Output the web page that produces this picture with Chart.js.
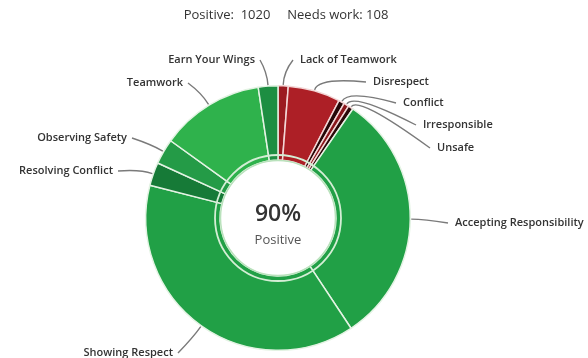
<!DOCTYPE html>
<html>
<head>
<meta charset="utf-8">
<script src="https://cdn.jsdelivr.net/npm/chart.js@4.4.0/dist/chart.umd.min.js"></script>
<style>
  html, body { margin: 0; padding: 0; background: #fff; }
  #wrap { width: 588px; height: 358px; position: relative; }
</style>
</head>
<body>
<div id="wrap"><canvas id="behaviorChart"></canvas></div>
<script>
// categories, clockwise from the top
const categories = [
    "Lack of Teamwork", "Disrespect", "Conflict", "Irresponsible", "Unsafe",
    "Accepting Responsibility", "Showing Respect", "Resolving Conflict",
    "Observing Safety", "Teamwork", "Earn Your Wings"
];
const counts = [14, 72, 8, 7, 7, 351, 432, 32, 35, 143, 27];
const isPositive = [false, false, false, false, false, true, true, true, true, true, true];

const sliceColors = [
    "#9c1b21", "#ad1f26", "#240707", "#8a161b", "#2a0909",
    "#21a046", "#21a046", "#167a37", "#249b47", "#2fb24c", "#1d8e42"
];
const sliceBorders = [
    "#f3d6d6", "#f3d6d6", "#f3d6d6", "#f3d6d6", "#f3d6d6",
    "#e3f3e3", "#e3f3e3", "#e3f3e3", "#e3f3e3", "#e3f3e3", "#e3f3e3"
];

// label text placement relative to the chart centre: [dx, dy, align]
const labelPlacement = [
    [22, -158, "left"], [95, -136, "left"], [125, -115, "left"], [145, -93, "left"],
    [159, -70, "left"], [177, 5, "left"], [-105, 135, "right"], [-165, -47, "right"],
    [-151, -80, "right"], [-95, -135, "right"], [-23, -158, "right"]
];

const positiveTotal = counts.reduce((s, v, i) => s + (isPositive[i] ? v : 0), 0);
const needsWorkTotal = counts.reduce((s, v, i) => s + (isPositive[i] ? 0 : v), 0);
const positivePct = Math.round(positiveTotal / (positiveTotal + needsWorkTotal) * 100);

const FONT = "'Open Sans', 'Noto Sans', sans-serif";

// header, centre text, inner ring and callout labels
const decorPlugin = {
    id: "decor",
    afterDatasetsDraw(chart) {
        const ctx = chart.ctx;
        const arcs = chart.getDatasetMeta(0).data;
        if (!arcs.length) return;
        const cx = arcs[0].x, cy = arcs[0].y;
        const rIn = arcs[0].innerRadius;
        const rOut = arcs[0].outerRadius;

        ctx.save();
        // inner rings
        ctx.beginPath();
        ctx.arc(cx, cy, rIn + 5, 0, Math.PI * 2);
        ctx.strokeStyle = "#d4eed5";
        ctx.lineWidth = 1.8;
        ctx.stroke();
        ctx.beginPath();
        ctx.arc(cx, cy, rIn - 0.5, 0, Math.PI * 2);
        ctx.strokeStyle = "#b9e2bc";
        ctx.lineWidth = 1.5;
        ctx.stroke();

        // centre text
        ctx.fillStyle = "#333";
        ctx.textAlign = "center";
        ctx.textBaseline = "middle";
        ctx.font = "600 23px " + FONT;
        ctx.fillText(positivePct + "%", cx, cy - 4);
        ctx.fillStyle = "#555";
        ctx.font = "13px " + FONT;
        ctx.fillText("Positive", cx, cy + 22);

        // header
        ctx.fillStyle = "#333";
        ctx.font = "13px " + FONT;
        ctx.fillText("Positive:  " + positiveTotal + "     Needs work: " + needsWorkTotal, cx + 8, 15);

        // callouts
        ctx.font = "600 11px " + FONT;
        ctx.strokeStyle = "#7a7a7a";
        ctx.lineWidth = 1.4;
        arcs.forEach((arc, i) => {
            const mid = (arc.startAngle + arc.endAngle) / 2;
            const ax = cx + Math.cos(mid) * (rOut + 1);
            const ay = cy + Math.sin(mid) * (rOut + 1);
            const kx = cx + Math.cos(mid) * (rOut + 14);
            const ky = cy + Math.sin(mid) * (rOut + 14);
            const [dx, dy, align] = labelPlacement[i];
            const tx = cx + dx, ty = cy + dy;
            const sx = align === "left" ? tx - 7 : tx + 5;
            ctx.beginPath();
            ctx.moveTo(sx, ty);
            ctx.quadraticCurveTo(kx, ky, ax, ay);
            ctx.stroke();
            ctx.fillStyle = "#333";
            ctx.textAlign = align;
            ctx.fillText(categories[i], tx, ty);
        });
        ctx.restore();
    }
};

new Chart(document.getElementById("behaviorChart"), {
    type: "doughnut",
    data: {
        labels: categories,
        datasets: [{
            data: counts,
            backgroundColor: sliceColors,
            borderColor: sliceBorders,
            borderWidth: 1.5
        }]
    },
    options: {
        responsive: true,
        maintainAspectRatio: false,
        animation: false,
        cutout: 58,
        layout: { padding: { top: 85, bottom: 7, left: 145, right: 177 } },
        plugins: {
            legend: { display: false },
            tooltip: { enabled: false },
            title: { display: false }
        }
    },
    plugins: [decorPlugin]
});
</script>
</body>
</html>
